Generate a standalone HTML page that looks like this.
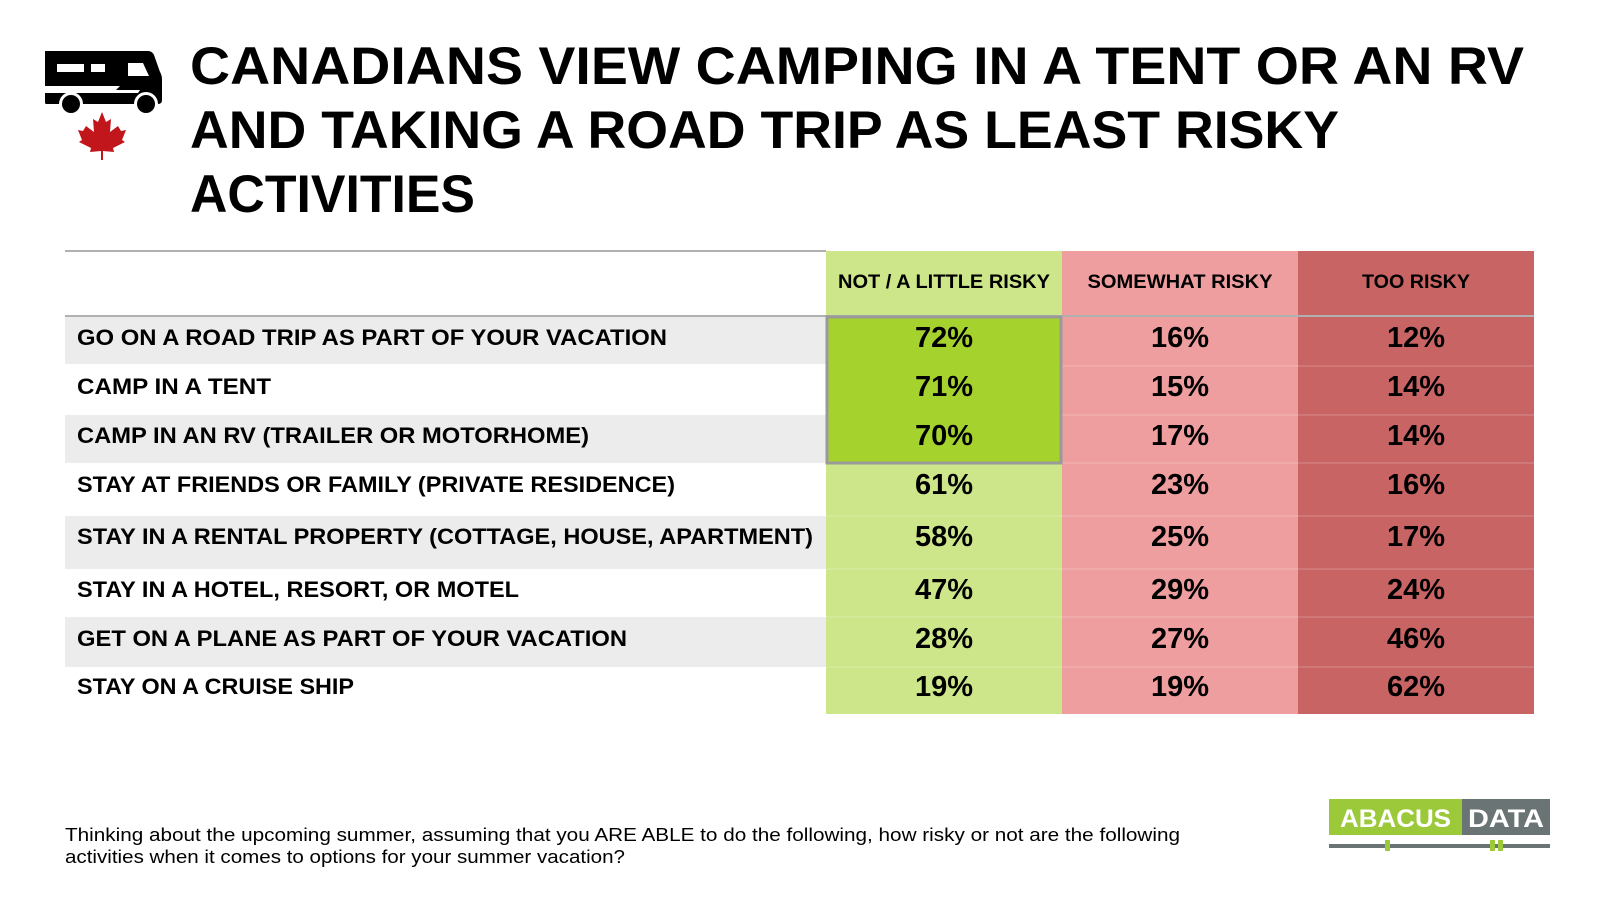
<!DOCTYPE html>
<html><head><meta charset="utf-8"><style>
html,body{margin:0;padding:0;background:#fff;}
svg{display:block;}
text{font-family:"Liberation Sans",Arial,sans-serif;font-weight:bold;fill:#000;}
</style></head><body>
<svg width="1600" height="900" viewBox="0 0 1600 900" xmlns="http://www.w3.org/2000/svg">
<!-- icon -->
<g fill="#000">
<path d="M45 51 H148 Q152 51 154 55 L160 72 Q162 75 162 80 V100 Q162 104 158 104 H46 Q45 104 45 102 Z"/>
</g>
<g fill="#fff">
<rect x="57" y="64" width="27" height="8"/>
<rect x="91" y="64" width="14" height="8"/>
<path d="M128 63 H143 L149 76 H128 Z"/>
<path d="M45 86 H120 L116 90 H140 L138 93 H45 Z"/>
</g>
<circle cx="71" cy="104" r="12" fill="#fff"/><circle cx="71" cy="104" r="9" fill="#000"/>
<circle cx="146" cy="104" r="12" fill="#fff"/><circle cx="146" cy="104" r="9" fill="#000"/>
<path d="M102 112 L106 122 L111 119 L110 132 L118 126 L121 131 L126 130 L122 140 L125 142 L113 148 L114 152 L103 151 L103 160 L101 160 L101 151 L90 152 L91 148 L79 142 L82 140 L78 130 L83 131 L86 126 L94 132 L93 119 L98 122 Z" fill="#c0161c"/>
<!-- title -->
<text x="190" y="84" font-size="53" textLength="1334" lengthAdjust="spacingAndGlyphs">CANADIANS VIEW CAMPING IN A TENT OR AN RV</text>
<text x="190" y="148" font-size="53" textLength="1149" lengthAdjust="spacingAndGlyphs">AND TAKING A ROAD TRIP AS LEAST RISKY</text>
<text x="190" y="212" font-size="53" textLength="285" lengthAdjust="spacingAndGlyphs">ACTIVITIES</text>
<!-- table -->
<line x1="65" y1="251" x2="826" y2="251" stroke="#b0b0b0" stroke-width="2"/>
<rect x="826" y="251" width="236" height="463" fill="#cde68a"/>
<rect x="1062" y="251" width="236" height="463" fill="#ee9e9e"/>
<rect x="1298" y="251" width="236" height="463" fill="#c96464"/>
<line x1="65" y1="316" x2="1534" y2="316" stroke="#b0b0b0" stroke-width="2"/>
<rect x="65" y="317" width="761" height="47" fill="#ececec"/>
<rect x="65" y="415" width="761" height="48" fill="#ececec"/>
<rect x="65" y="516" width="761" height="53" fill="#ececec"/>
<rect x="65" y="617" width="761" height="50" fill="#ececec"/>
<g stroke="#ffffff" stroke-opacity="0.25" stroke-width="1">
<line x1="1062" y1="366" x2="1534" y2="366"/><line x1="1062" y1="415" x2="1534" y2="415"/>
<line x1="1062" y1="463" x2="1534" y2="463"/><line x1="826" y1="516" x2="1534" y2="516"/>
<line x1="826" y1="569" x2="1534" y2="569"/><line x1="826" y1="617" x2="1534" y2="617"/>
<line x1="826" y1="667" x2="1534" y2="667"/>
</g>
<rect x="827" y="317" width="234" height="146" fill="#a6d22e" stroke="#9a9a9a" stroke-width="3"/>
<g font-size="19" text-anchor="middle">
<text x="944" y="288" textLength="212" lengthAdjust="spacingAndGlyphs">NOT / A LITTLE RISKY</text>
<text x="1180" y="288" textLength="185" lengthAdjust="spacingAndGlyphs">SOMEWHAT RISKY</text>
<text x="1416" y="288" textLength="108" lengthAdjust="spacingAndGlyphs">TOO RISKY</text>
</g>
<g font-size="22">
<text x="77" y="345" textLength="590" lengthAdjust="spacingAndGlyphs">GO ON A ROAD TRIP AS PART OF YOUR VACATION</text>
<text x="77" y="394" textLength="194" lengthAdjust="spacingAndGlyphs">CAMP IN A TENT</text>
<text x="77" y="443" textLength="512" lengthAdjust="spacingAndGlyphs">CAMP IN AN RV (TRAILER OR MOTORHOME)</text>
<text x="77" y="492" textLength="598" lengthAdjust="spacingAndGlyphs">STAY AT FRIENDS OR FAMILY (PRIVATE RESIDENCE)</text>
<text x="77" y="544" textLength="736" lengthAdjust="spacingAndGlyphs">STAY IN A RENTAL PROPERTY (COTTAGE, HOUSE, APARTMENT)</text>
<text x="77" y="597" textLength="442" lengthAdjust="spacingAndGlyphs">STAY IN A HOTEL, RESORT, OR MOTEL</text>
<text x="77" y="646" textLength="550" lengthAdjust="spacingAndGlyphs">GET ON A PLANE AS PART OF YOUR VACATION</text>
<text x="77" y="694" textLength="277" lengthAdjust="spacingAndGlyphs">STAY ON A CRUISE SHIP</text>
</g>
<g font-size="29" text-anchor="middle">
<text x="944" y="347">72%</text><text x="1180" y="347">16%</text><text x="1416" y="347">12%</text>
<text x="944" y="396">71%</text><text x="1180" y="396">15%</text><text x="1416" y="396">14%</text>
<text x="944" y="445">70%</text><text x="1180" y="445">17%</text><text x="1416" y="445">14%</text>
<text x="944" y="494">61%</text><text x="1180" y="494">23%</text><text x="1416" y="494">16%</text>
<text x="944" y="546">58%</text><text x="1180" y="546">25%</text><text x="1416" y="546">17%</text>
<text x="944" y="599">47%</text><text x="1180" y="599">29%</text><text x="1416" y="599">24%</text>
<text x="944" y="648">28%</text><text x="1180" y="648">27%</text><text x="1416" y="648">46%</text>
<text x="944" y="696">19%</text><text x="1180" y="696">19%</text><text x="1416" y="696">62%</text>
</g>
<!-- footer -->
<g font-size="18">
<text x="65" y="841" style="font-weight:normal" textLength="1115" lengthAdjust="spacingAndGlyphs">Thinking about the upcoming summer, assuming that you ARE ABLE to do the following, how risky or not are the following</text>
<text x="65" y="863" style="font-weight:normal" textLength="560" lengthAdjust="spacingAndGlyphs">activities when it comes to options for your summer vacation?</text>
</g>
<!-- logo -->
<rect x="1329" y="799" width="133" height="36" fill="#9bc93a"/>
<rect x="1462" y="799" width="88" height="36" fill="#6b7474"/>
<text x="1340" y="827" font-size="25" style="fill:#fff" textLength="111" lengthAdjust="spacingAndGlyphs">ABACUS</text>
<text x="1468" y="827" font-size="25" style="fill:#fff" textLength="76" lengthAdjust="spacingAndGlyphs">DATA</text>
<rect x="1329" y="844" width="221" height="4" fill="#6b7474"/>
<rect x="1385" y="840" width="5" height="11" fill="#9bc93a"/>
<rect x="1490" y="840" width="5" height="11" fill="#9bc93a"/>
<rect x="1498" y="840" width="5" height="11" fill="#9bc93a"/>
</svg>
</body></html>
